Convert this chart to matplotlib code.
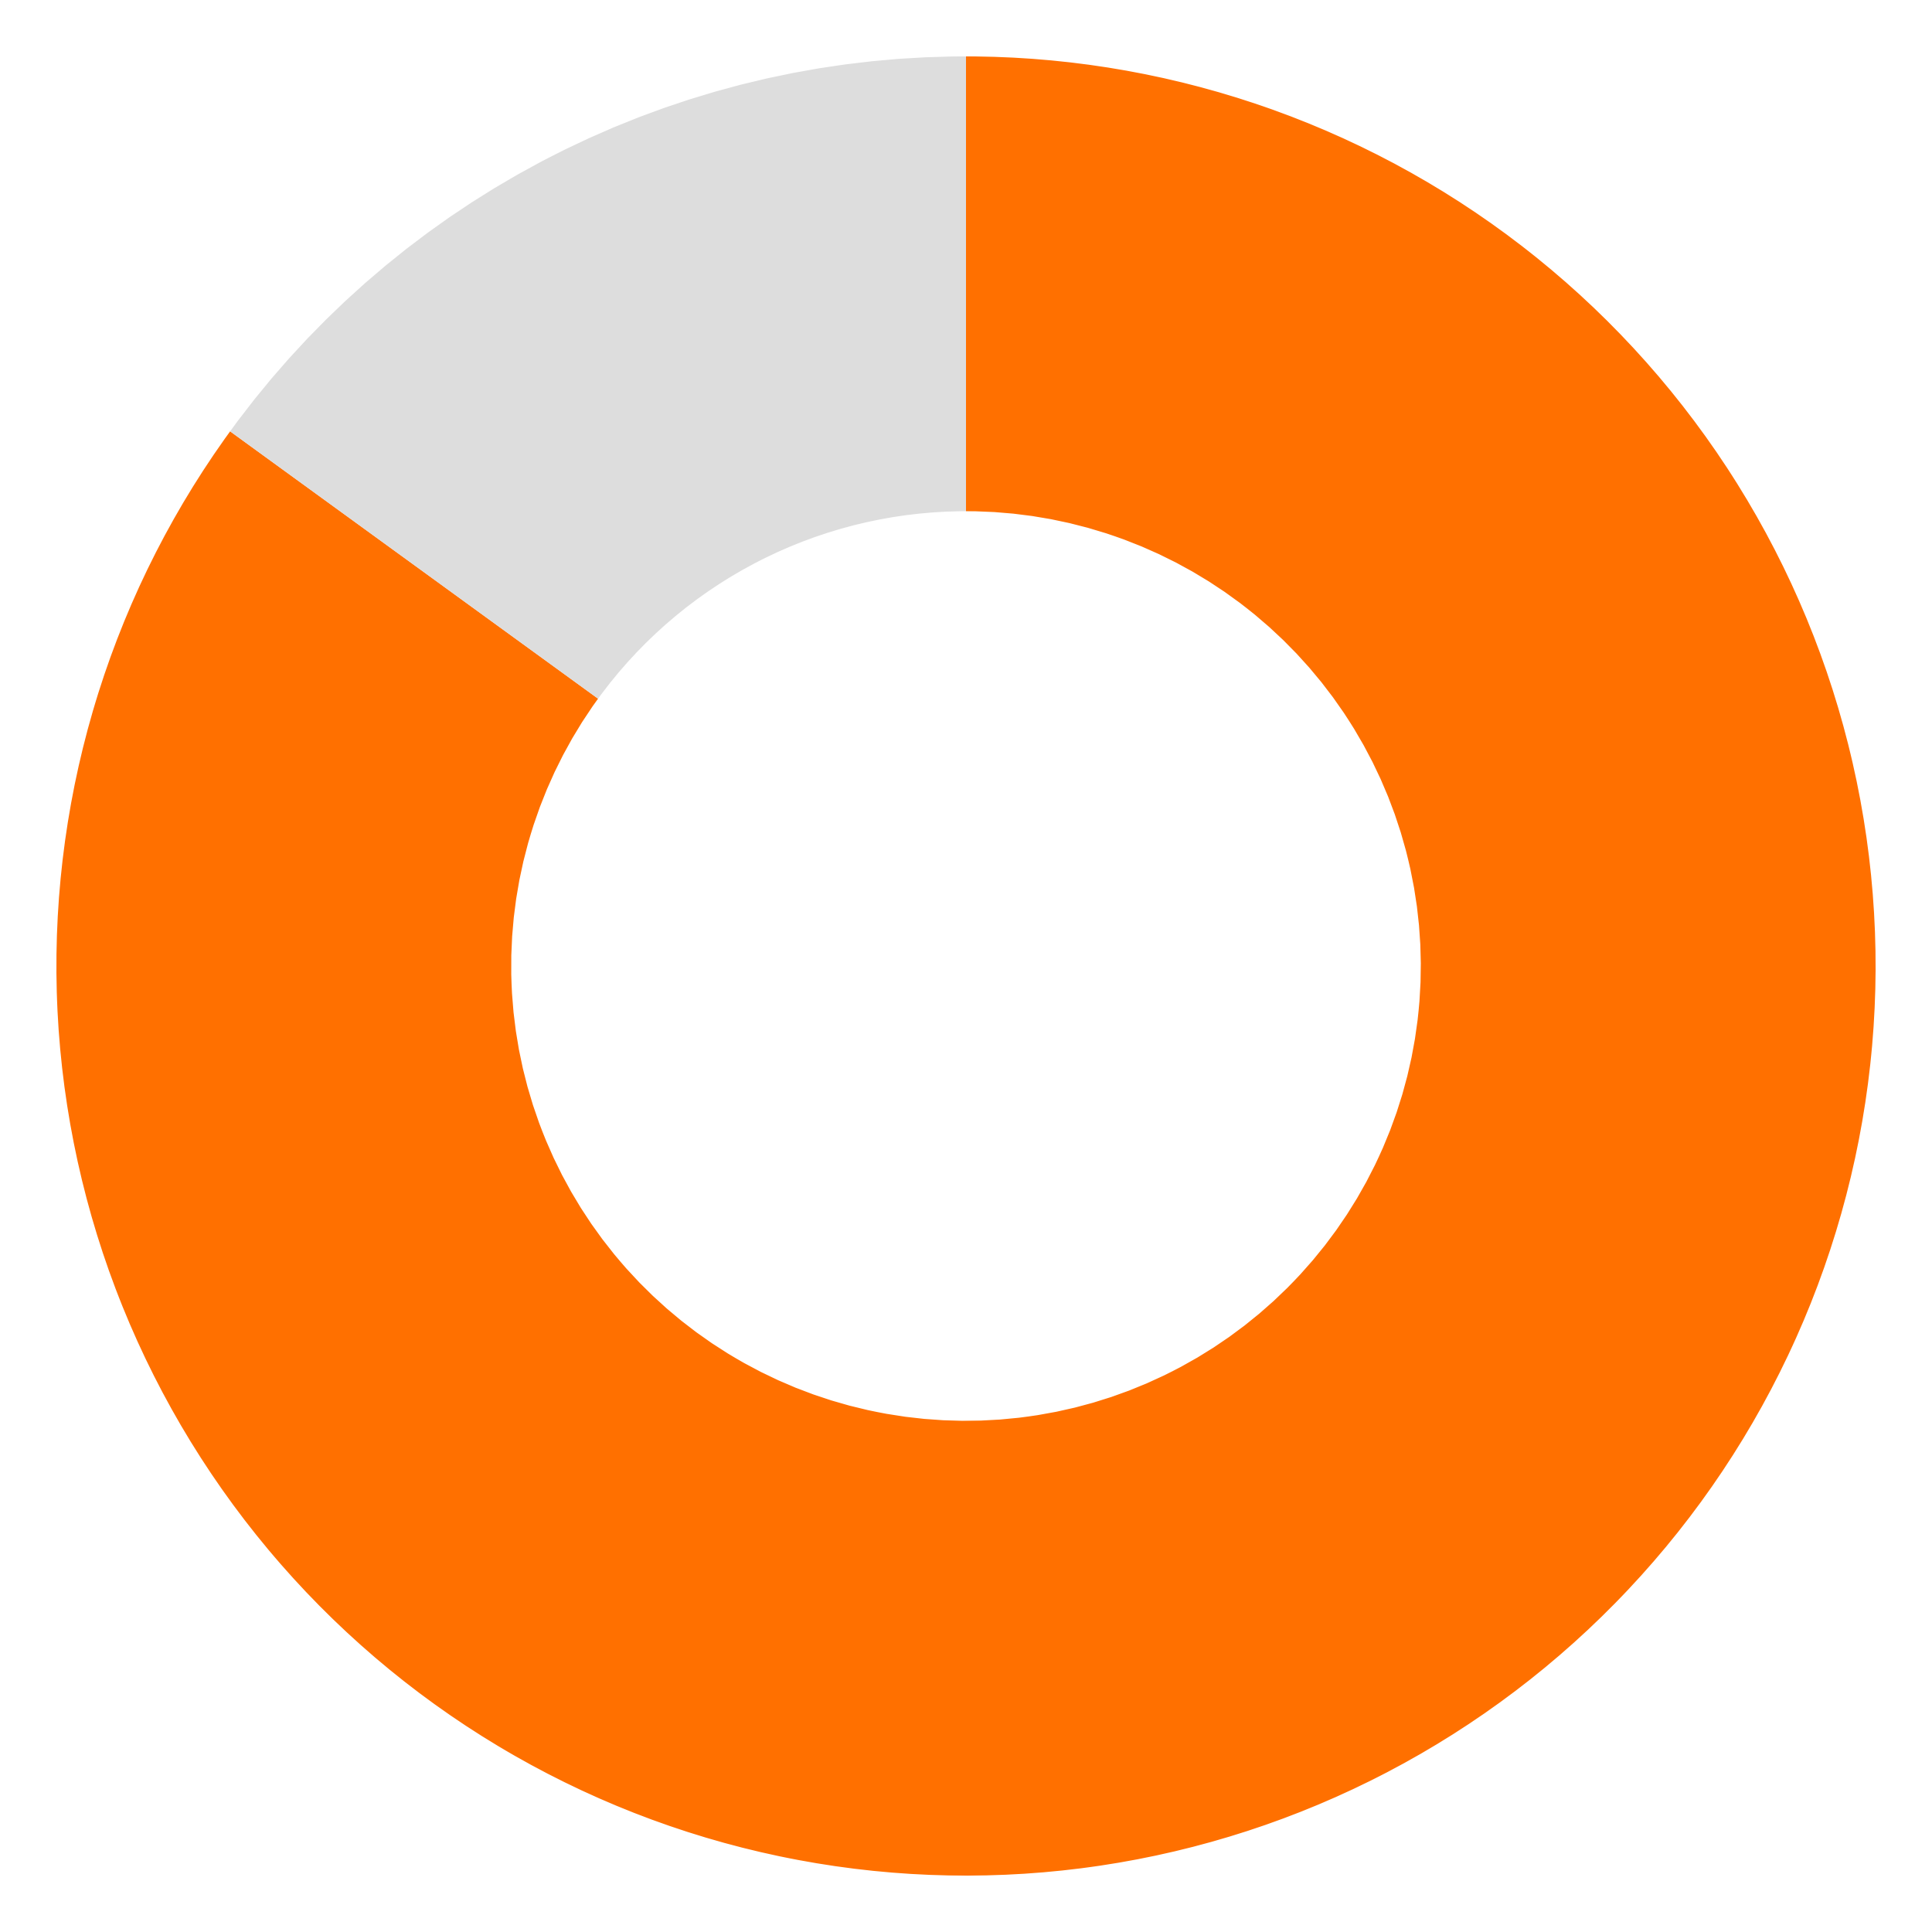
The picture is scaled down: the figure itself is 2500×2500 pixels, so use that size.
import matplotlib
matplotlib.use("Agg")
import matplotlib.pyplot as plt

# donut values (percent)
labels = ["done", "remaining"]
values = [85, 15]
colors = ["#FF7000", "#DDDDDD"]

fig = plt.figure(figsize=(10, 10), dpi=250)
ax = fig.add_axes([0, 0, 1, 1])

ax.pie(values, colors=colors, startangle=90, counterclock=False,
       radius=1.0, wedgeprops=dict(width=0.5, edgecolor="none"))

lim = 1250 / 1177
ax.set_xlim(-lim, lim)
ax.set_ylim(-lim, lim)
ax.set_aspect("equal")
ax.axis("off")

fig.savefig("out.png", dpi=250, facecolor="white")
